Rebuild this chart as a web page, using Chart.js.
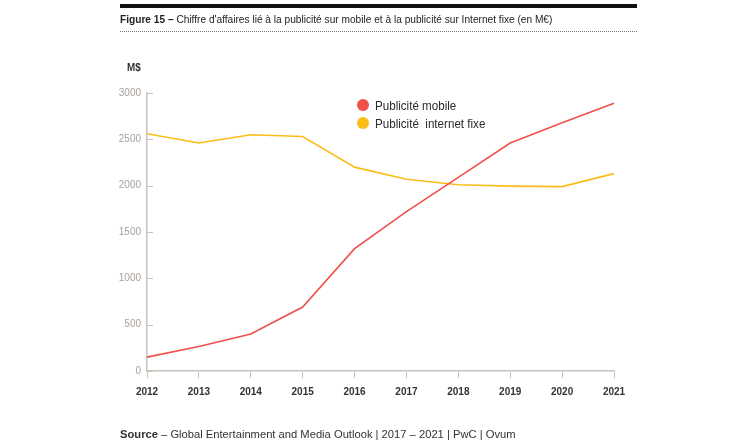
<!DOCTYPE html>
<html>
<head>
<meta charset="utf-8">
<script src="https://cdn.jsdelivr.net/npm/chart.js@4.4.0/dist/chart.umd.min.js"></script>
<style>
  body { margin: 0; background: #fff; }
  #wrap { position: relative; width: 750px; height: 448px; overflow: hidden; font-family: "Liberation Sans", Arial, sans-serif; }
  #chart { position: absolute; left: 0; top: 0; }
  .narrow { transform-origin: 0 0; white-space: nowrap; }
  #topRule { position: absolute; left: 120px; top: 4px; width: 517px; height: 4px; background: #111; }
  #title { position: absolute; left: 120px; top: 12px; font-size: 11.8px; color: #222; transform: scaleX(0.86); }
  #dots { position: absolute; left: 120px; top: 31px; width: 517px; border-top: 1.5px dotted #777; }
  #unit { position: absolute; left: 127px; top: 61px; font-size: 11px; font-weight: bold; color: #333; transform: scaleX(0.9); }
  #legend { position: absolute; left: 357px; top: 97px; font-size: 13.5px; color: #2a2a2a; }
  #legend div { height: 18px; line-height: 18px; }
  #legend span.dot { display: inline-block; width: 12px; height: 12px; border-radius: 50%; vertical-align: -1px; }
  #legend span.txt { display: inline-block; margin-left: 6px; transform: scaleX(0.86); transform-origin: 0 50%; }
  #source { position: absolute; left: 120px; top: 428px; font-size: 11.2px; color: #333; white-space: nowrap; }
</style>
</head>
<body>
<div id="wrap">
  <canvas id="chart" width="750" height="448"></canvas>
  <div id="topRule"></div>
  <div id="title" class="narrow"><b>Figure 15 –</b> Chiffre d'affaires lié à la publicité sur mobile et à la publicité sur Internet fixe (en M€)</div>
  <div id="dots"></div>
  <div id="unit" class="narrow">M$</div>
  <div id="legend"></div>
  <div id="source"><b>Source</b> – Global Entertainment and Media Outlook | 2017 – 2021 | PwC | Ovum</div>
</div>
<script>
const years = ["2012", "2013", "2014", "2015", "2016", "2017", "2018", "2019", "2020", "2021"];
const mobile = [150, 265, 400, 690, 1320, 1720, 2090, 2460, 2680, 2890];
const fixe = [2560, 2460, 2550, 2530, 2200, 2070, 2010, 1995, 1990, 2130];
const seriesNames = ["Publicité mobile", "Publicité  internet fixe"];
const seriesColors = ["#f0504a", "#fbbd19"];
const yTicks = [0, 500, 1000, 1500, 2000, 2500, 3000];

const axisColor = "#c9c2bb";
const fontFam = "'Liberation Sans', Arial, sans-serif";

// legend in html
const legend = document.getElementById("legend");
seriesNames.forEach((name, i) => {
  const row = document.createElement("div");
  row.innerHTML = `<span class="dot" style="background:${seriesColors[i]}"></span><span class="txt">${name.replace(/  /g, " &nbsp;")}</span>`;
  legend.appendChild(row);
});

// y-axis tick marks go inward (to the right of the axis)
const innerTicks = {
  id: "innerTicks",
  afterDraw(chart) {
    const y = chart.scales.y;
    const ctx = chart.ctx;
    ctx.save();
    ctx.strokeStyle = axisColor;
    ctx.lineWidth = 1;
    yTicks.forEach(v => {
      const py = Math.round(y.getPixelForValue(v)) + 0.5;
      ctx.beginPath();
      ctx.moveTo(y.right, py);
      ctx.lineTo(y.right + 6, py);
      ctx.stroke();
    });
    ctx.restore();
  }
};

new Chart(document.getElementById("chart"), {
  type: "line",
  data: {
    labels: years,
    datasets: [
      { label: seriesNames[0], data: mobile, borderColor: seriesColors[0], borderWidth: 1.6, pointRadius: 0, tension: 0 },
      { label: seriesNames[1], data: fixe, borderColor: seriesColors[1], borderWidth: 1.6, pointRadius: 0, tension: 0 }
    ]
  },
  options: {
    responsive: false,
    animation: false,
    layout: { padding: { left: 100, right: 136, top: 93, bottom: 47 } },
    plugins: { legend: { display: false }, tooltip: { enabled: false } },
    scales: {
      x: {
        offset: false,
        afterFit: s => { s.height = 30; },
        grid: { display: true, drawOnChartArea: false, drawTicks: true, tickLength: 7, color: axisColor },
        border: { color: axisColor, width: 1.5 },
        ticks: { color: "#333", font: { family: fontFam, size: 10, weight: "bold" }, padding: 8, maxRotation: 0 }
      },
      y: {
        min: 0, max: 3000,
        afterFit: s => { s.width = 47; },
        afterBuildTicks: s => { s.ticks = yTicks.map(v => ({ value: v })); },
        grid: { display: false, drawTicks: false, tickLength: 0 },
        border: { color: axisColor, width: 1.5 },
        ticks: { color: "#a8a09a", font: { family: fontFam, size: 10 }, padding: 6, callback: v => String(v) }
      }
    }
  },
  plugins: [innerTicks]
});
</script>
</body>
</html>
